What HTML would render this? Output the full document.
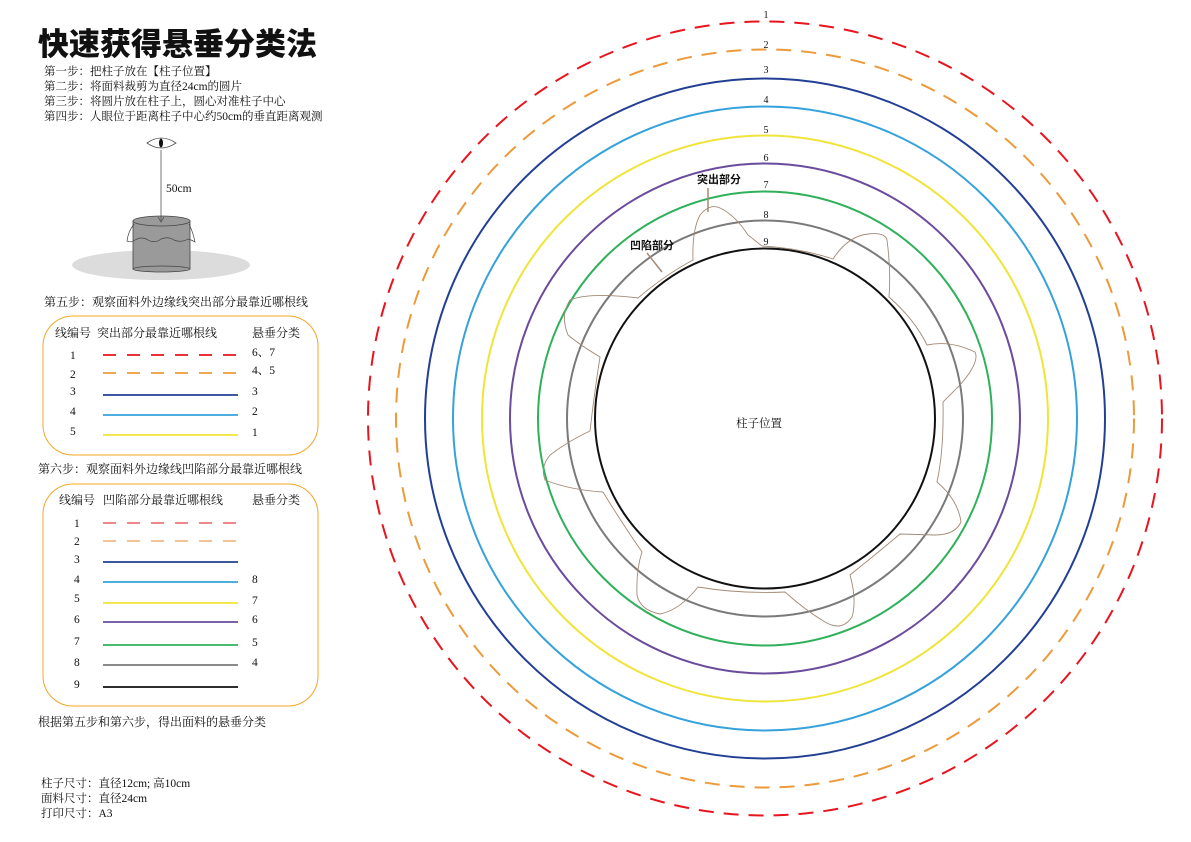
<!DOCTYPE html>
<html><head><meta charset="utf-8"><style>
html,body{margin:0;padding:0;background:#fff}
svg{display:block}
text{font-family:"Liberation Serif","Noto Serif CJK SC","Noto Sans CJK SC",serif;fill:#111}
.s{font-family:"Liberation Sans","Noto Sans CJK SC",sans-serif}
</style></head><body>
<svg width="1191" height="842" viewBox="0 0 1191 842" xmlns="http://www.w3.org/2000/svg">
<text x="38" y="55" font-size="31" style="font-family:'Noto Sans CJK SC',sans-serif;font-weight:900">快速获得悬垂分类法</text>
<g font-size="11.5">
<text x="44" y="75">第一步：把柱子放在【柱子位置】</text>
<text x="44" y="90">第二步：将面料裁剪为直径24cm的圆片</text>
<text x="44" y="105">第三步：将圆片放在柱子上，圆心对准柱子中心</text>
<text x="44" y="120">第四步：人眼位于距离柱子中心约50cm的垂直距离观测</text>
</g>
<ellipse cx="161" cy="265" rx="89" ry="15" fill="#dcdcdc"/>
<path d="M147 143 Q161 133 176 143 Q161 153 147 143Z" fill="#fff" stroke="#555" stroke-width="0.8"/>
<ellipse cx="161" cy="143" rx="2" ry="4.5" fill="#111"/>
<rect x="133" y="221" width="57" height="48" fill="#9a9a9a" stroke="#444" stroke-width="0.8"/>
<ellipse cx="161.5" cy="269" rx="28.5" ry="3" fill="#9a9a9a" stroke="#444" stroke-width="0.8"/>
<ellipse cx="161.5" cy="221" rx="28.5" ry="5" fill="#9a9a9a" stroke="#444" stroke-width="0.8"/>
<path d="M134 224 Q128 232 127 241 Q131 243 135 240 Q142 236 148 240 Q155 244 161 239 Q168 236 174 240 Q181 243 188 239 Q192 240 195 242 Q193 232 189 224" fill="none" stroke="#444" stroke-width="0.7"/>
<line x1="161" y1="150" x2="161" y2="221" stroke="#555" stroke-width="0.8"/>
<path d="M158 217 L161 222 L164 217" fill="none" stroke="#555" stroke-width="0.8"/>
<text x="166" y="192" font-size="11.5">50cm</text>

<text x="44" y="306" font-size="12">第五步：观察面料外边缘线突出部分最靠近哪根线</text>
<rect x="43" y="316" width="275" height="139" rx="30" fill="none" stroke="#f5a623" stroke-width="1"/>
<g font-size="12">
<text x="55" y="337">线编号</text><text x="97" y="337">突出部分最靠近哪根线</text><text x="252" y="337">悬垂分类</text>
</g>
<g font-size="11.5">
<text x="70" y="359">1</text><text x="70" y="378">2</text><text x="70" y="395">3</text><text x="70" y="415">4</text><text x="70" y="435">5</text>
<text x="252" y="356">6、7</text><text x="252" y="374">4、5</text><text x="252" y="395">3</text><text x="252" y="415">2</text><text x="252" y="436">1</text>
</g>
<line x1="103" y1="355" x2="238" y2="355" stroke="#e8141e" stroke-width="1.8" stroke-dasharray="13,11"/>
<line x1="103" y1="373" x2="238" y2="373" stroke="#ec9a3a" stroke-width="1.8" stroke-dasharray="13,11"/>
<line x1="103" y1="395" x2="238" y2="395" stroke="#233f94" stroke-width="1.8"/>
<line x1="103" y1="415" x2="238" y2="415" stroke="#36a2dc" stroke-width="1.8"/>
<line x1="103" y1="435" x2="238" y2="435" stroke="#f0e43a" stroke-width="1.8"/>

<text x="38" y="473" font-size="12">第六步：观察面料外边缘线凹陷部分最靠近哪根线</text>
<rect x="43" y="484" width="275" height="222" rx="30" fill="none" stroke="#f5a623" stroke-width="1"/>
<g font-size="12">
<text x="59" y="504">线编号</text><text x="103" y="504">凹陷部分最靠近哪根线</text><text x="252" y="504">悬垂分类</text>
</g>
<g font-size="11.5">
<text x="74" y="527">1</text><text x="74" y="545">2</text><text x="74" y="563">3</text><text x="74" y="583">4</text><text x="74" y="602">5</text><text x="74" y="623">6</text><text x="74" y="645">7</text><text x="74" y="666">8</text><text x="74" y="688">9</text>
<text x="252" y="583">8</text><text x="252" y="604">7</text><text x="252" y="623">6</text><text x="252" y="646">5</text><text x="252" y="666">4</text>
</g>
<line x1="103" y1="523" x2="238" y2="523" stroke="#d8101a" stroke-width="1.1" stroke-dasharray="13,11"/>
<line x1="103" y1="541" x2="238" y2="541" stroke="#e08a2a" stroke-width="1.1" stroke-dasharray="13,11"/>
<line x1="103" y1="562" x2="238" y2="562" stroke="#233f94" stroke-width="1.8"/>
<line x1="103" y1="582" x2="238" y2="582" stroke="#36a2dc" stroke-width="1.8"/>
<line x1="103" y1="603" x2="238" y2="603" stroke="#f0e43a" stroke-width="1.8"/>
<line x1="103" y1="622" x2="238" y2="622" stroke="#6a4b9c" stroke-width="1.8"/>
<line x1="103" y1="645" x2="238" y2="645" stroke="#2fb05a" stroke-width="1.8"/>
<line x1="103" y1="665" x2="238" y2="665" stroke="#7a7a7a" stroke-width="1.8"/>
<line x1="103" y1="687" x2="238" y2="687" stroke="#111" stroke-width="1.8"/>

<text x="38" y="726" font-size="12">根据第五步和第六步，得出面料的悬垂分类</text>
<g font-size="11.5">
<text x="41" y="787">柱子尺寸：直径12cm; 高10cm</text>
<text x="41" y="802">面料尺寸：直径24cm</text>
<text x="41" y="817">打印尺寸：A3</text>
</g>

<g fill="none" stroke-width="2">
<circle cx="765" cy="418.5" r="397" stroke="#e8141e" stroke-dasharray="15,10"/>
<circle cx="765" cy="418.5" r="369" stroke="#ec9a3a" stroke-dasharray="15,10"/>
<circle cx="765" cy="418.5" r="340" stroke="#233f94"/>
<circle cx="765" cy="418.5" r="312" stroke="#36a2dc"/>
<circle cx="765" cy="418.5" r="283" stroke="#f0e43a"/>
<circle cx="765" cy="418.5" r="255" stroke="#6a4b9c"/>
<circle cx="765" cy="418.5" r="227" stroke="#2fb05a"/>
<circle cx="765" cy="418.5" r="198" stroke="#7a7a7a"/>
<circle cx="765" cy="418.5" r="170" stroke="#111"/>
</g>
<path d="M762 246 Q800 248 833 259 Q848 236 868 234 Q885 232 887 240 Q891 270 889 297 Q915 320 927 345 Q950 340 975 352 Q980 362 960 385 Q950 395 943 402 Q944 450 937 482 Q958 500 961 522 Q955 535 935 535 L900 534 Q875 555 850 575 Q857 600 852 617 Q842 632 825 622 Q805 610 785 592 Q740 594 698 587 Q680 610 660 614 Q640 610 637 595 Q636 570 642 552 Q620 520 603 492 Q570 490 545 480 Q540 467 550 455 Q570 440 590 431 Q594 395 600 357 Q580 345 568 335 Q560 315 570 300 Q590 292 638 298 Q665 275 693 260 Q692 230 700 215 Q710 203 720 208 Q735 215 748 235 Z" fill="none" stroke="#a48a76" stroke-width="0.9"/>
<g font-size="10" text-anchor="middle">
<text x="766" y="18">1</text><text x="766" y="48">2</text><text x="766" y="73">3</text><text x="766" y="103">4</text><text x="766" y="133">5</text><text x="766" y="161">6</text><text x="766" y="188">7</text><text x="766" y="218">8</text><text x="766" y="245">9</text>
</g>
<line x1="708" y1="188" x2="708" y2="212" stroke="#a48a76" stroke-width="1.5"/>
<line x1="647" y1="253" x2="662" y2="272" stroke="#a48a76" stroke-width="1.5"/>
<text x="697" y="183" font-size="11" font-weight="bold" class="s">突出部分</text>
<text x="630" y="249" font-size="11" font-weight="bold" class="s">凹陷部分</text>
<text x="736" y="427" font-size="11.5">柱子位置</text>
</svg>
</body></html>
